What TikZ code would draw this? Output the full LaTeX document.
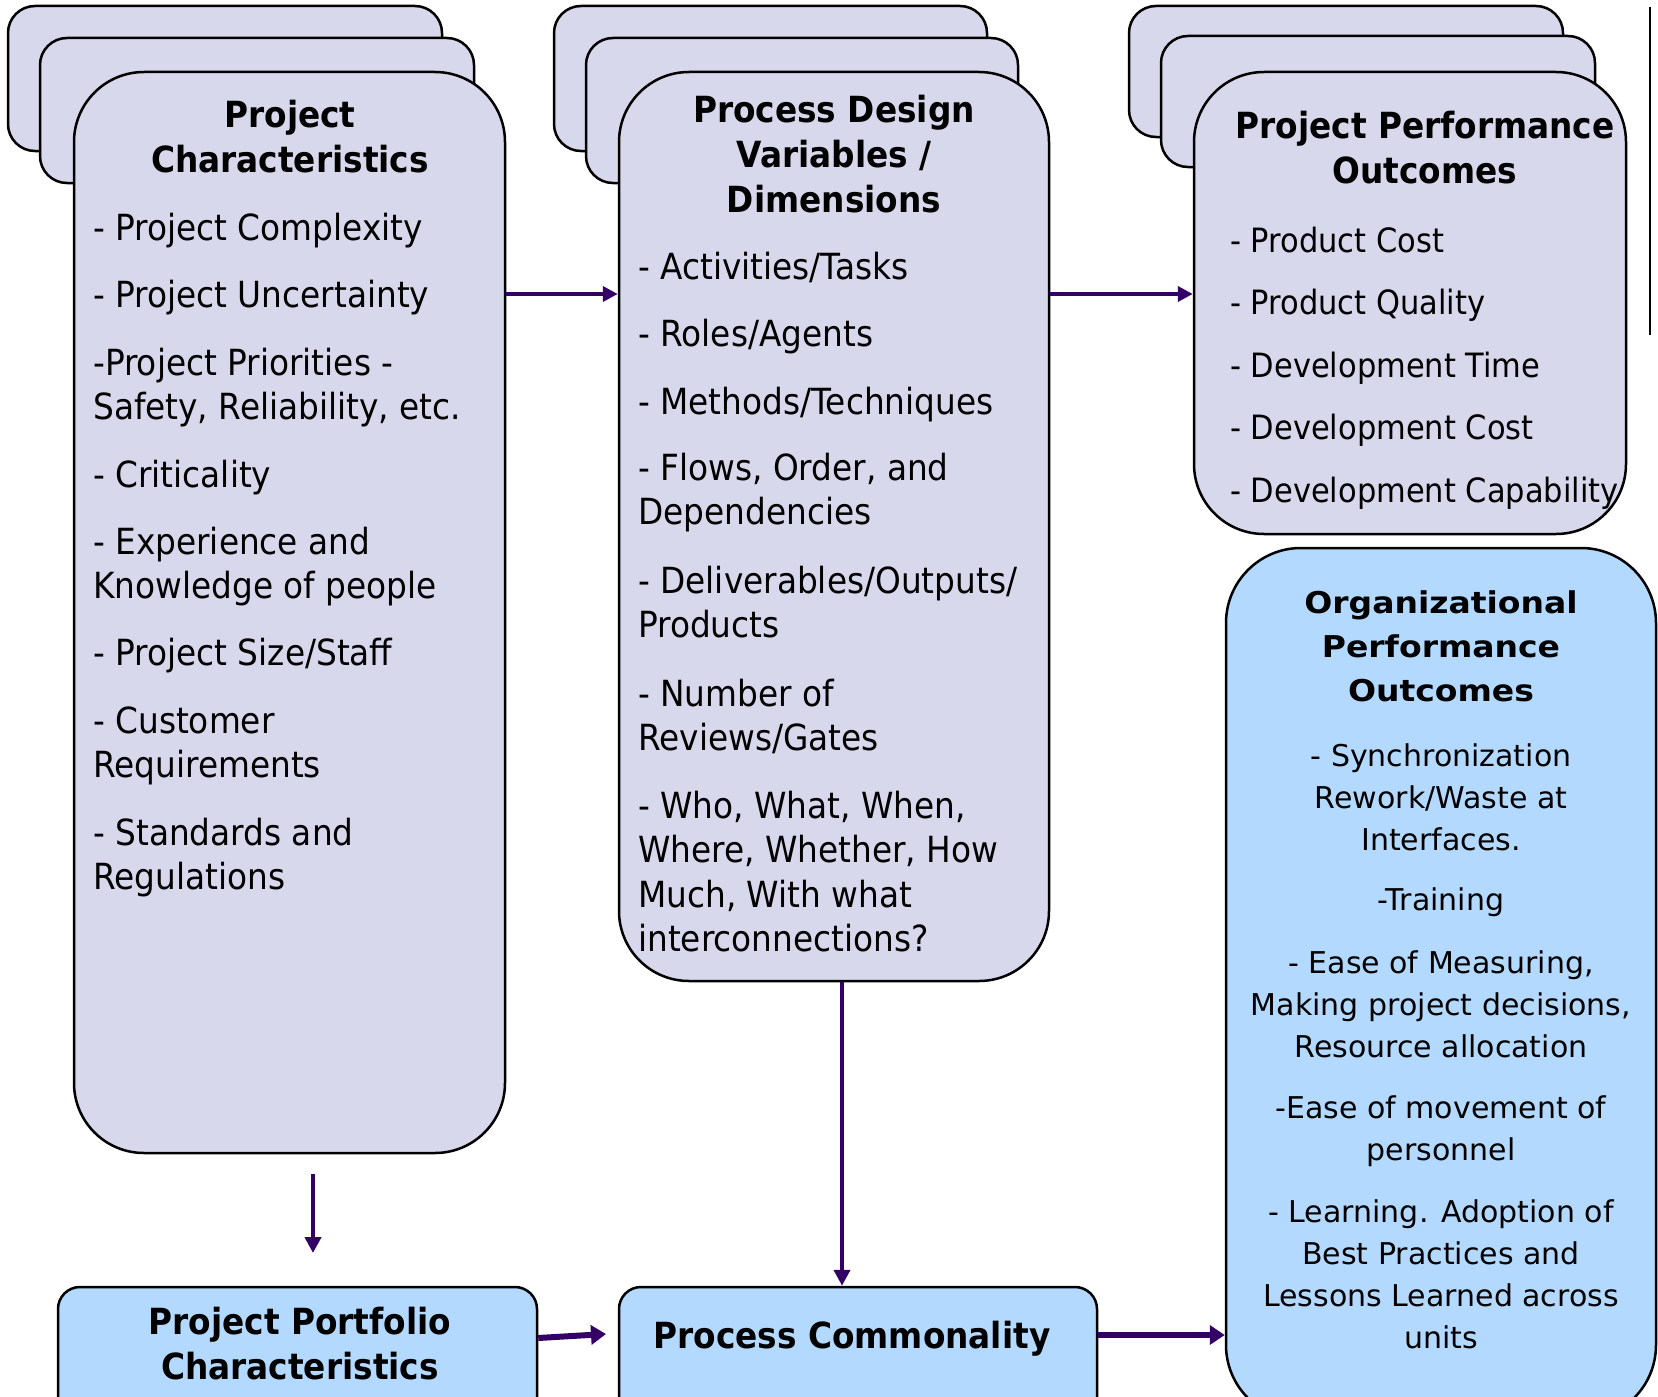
\documentclass[tikz,border=0pt]{standalone}
\usepackage{fontspec}
\setmainfont{DejaVu Sans}[FakeStretch=0.91]
\newfontfamily\orgfont{DejaVu Sans}
\newfontfamily\orgboldfont{DejaVu Sans Bold}[FakeStretch=1.1]
\usetikzlibrary{arrows.meta}
\definecolor{lav}{RGB}{216,216,236}
\definecolor{lblue}{RGB}{179,217,255}
\definecolor{arr}{RGB}{51,0,102}
\begin{document}
\begin{tikzpicture}[x=1pt,y=-1pt,
  backbox/.style={draw=black,line width=2.5pt,fill=lav,rounded corners=27pt,inner sep=0pt,minimum width=434pt,minimum height=145pt},
  frontbox/.style={draw=black,line width=2.5pt,fill=lav,rounded corners=70pt,inner sep=0pt},
  orgbox/.style={draw=black,line width=2.5pt,fill=lblue,rounded corners=75pt,inner sep=0pt},
  botbox/.style={draw=black,line width=2.5pt,fill=lblue,rounded corners=22pt,inner sep=0pt},
  item/.style={inner sep=0pt,anchor=base west,align=left,font=\fontsize{36}{44.5}\selectfont},
  ritem/.style={inner sep=0pt,anchor=base west,align=left,font=\fontsize{33.5}{42}\selectfont},
  ttl/.style={inner sep=0pt,anchor=base,align=center,font=\fontsize{36}{45}\selectfont\bfseries},
  oitem/.style={inner sep=0pt,anchor=base,align=center,font=\orgfont\fontsize{30}{42}\selectfont},
  ottl/.style={inner sep=0pt,anchor=base,align=center,font=\orgboldfont\fontsize{30}{44}\selectfont},
  athin/.style={draw=arr,line width=4pt,-{Triangle[length=15pt,width=15pt]}},
  amid/.style={draw=arr,line width=4.5pt,-{Triangle[length=16pt,width=16pt]}},
  athick/.style={draw=arr,line width=6pt,-{Triangle[length=15pt,width=19pt]}}]
\useasboundingbox (0,0) rectangle (1658,1397);
\clip (0,0) rectangle (1658,1397);
\fill[white] (0,0) rectangle (1658,1397);

% left column
\node[backbox] (lb1) at (225,78.5) {};
\node[backbox] (lb2) at (257,110.5) {};
\node[frontbox,minimum width=431pt,minimum height=1081pt] (lf) at (289.5,612.5) {};
% middle column
\node[backbox,minimum width=433pt] (mb1) at (770.5,78.5) {};
\node[backbox,minimum width=432pt] (mb2) at (802,110.5) {};
\node[frontbox,minimum width=430pt,minimum height=909pt] (mf) at (834,526.5) {};
% right column
\node[backbox,minimum height=131pt] (rb1) at (1346,71.5) {};
\node[backbox,minimum height=131pt] (rb2) at (1378,101.5) {};
\node[frontbox,minimum width=432pt,minimum height=462pt] (rf) at (1410,303) {};
% vertical rule at right edge
\coordinate (vr1) at (1650,7);
\coordinate (vr2) at (1650,335);
\draw[line width=2pt] (vr1) -- (vr2);
% organizational box
\node[orgbox,minimum width=430pt,minimum height=872pt] (org) at (1441,984) {};
% bottom boxes
\node[botbox,minimum width=479pt,minimum height=133pt] (pp) at (297.5,1353.5) {};
\node[botbox,minimum width=478pt,minimum height=133pt] (pc) at (858,1353.5) {};

% texts: left (multi-line nodes are placed by the baseline of their last line)
\node[ttl] (lt) at (290,172) {Project\\Characteristics};
\node[item] (l1) at (93,240) {- Project Complexity};
\node[item] (l2) at (93,307) {- Project Uncertainty};
\node[item] (l3) at (93,419.5) {-Project Priorities -\\Safety, Reliability, etc.};
\node[item] (l4) at (93,487) {- Criticality};
\node[item] (l5) at (93,598.5) {- Experience and\\Knowledge of people};
\node[item] (l6) at (93,665) {- Project Size/Staff};
\node[item] (l7) at (93,777.5) {- Customer\\Requirements};
\node[item] (l8) at (93,889.5) {- Standards and\\Regulations};
% texts: middle
\node[ttl] (mt) at (834,212) {Process Design\\Variables /\\Dimensions};
\node[item] (m1) at (638,279) {- Activities/Tasks};
\node[item] (m2) at (638,346) {- Roles/Agents};
\node[item] (m3) at (638,414) {- Methods/Techniques};
\node[item] (m4) at (638,524.5) {- Flows, Order, and\\Dependencies};
\node[item] (m5) at (638,637.5) {- Deliverables/Outputs/\\Products};
\node[item] (m6) at (638,750.5) {- Number of\\Reviews/Gates};
\node[item] (m7) at (638,951.5) {- Who, What, When,\\Where, Whether, How\\Much, With what\\interconnections?};
% texts: right
\node[ttl] (rt) at (1425,183) {Project Performance\\Outcomes};
\node[ritem] (r1) at (1230,252) {- Product Cost};
\node[ritem] (r2) at (1230,314) {- Product Quality};
\node[ritem] (r3) at (1230,377) {- Development Time};
\node[ritem] (r4) at (1230,439) {- Development Cost};
\node[ritem] (r5) at (1230,502) {- Development Capability};
% texts: organizational
\node[ottl] (ot) at (1441,701) {Organizational\\Performance\\Outcomes};
\node[oitem] (o1) at (1441,850) {- Synchronization\\Rework/Waste at\\Interfaces.};
\node[oitem] (o2) at (1441,910) {-Training};
\node[oitem] (o3) at (1441,1057) {- Ease of Measuring,\\Making project decisions,\\Resource allocation};
\node[oitem] (o4) at (1441,1160) {-Ease of movement of\\personnel};
\node[oitem] (o5) at (1441,1348) {- Learning. Adoption of\\Best Practices and\\Lessons Learned across\\units};
% texts: bottom
\node[ttl] (ppt) at (300,1379) {Project Portfolio\\Characteristics};
\node[ttl] (pct) at (852,1348) {Process Commonality};

% connectors
\coordinate (row) at (0,294);
\draw[athin] (lf.east |- row) -- (mf.west |- row);
\draw[athin] (mf.east |- row) -- (rf.west |- row);
\coordinate (ld1) at (313,1174);
\coordinate (ld2) at (313,1253);
\draw[amid] (ld1) -- (ld2);
\coordinate (mdx) at (842,0);
\draw[amid] (mf.south -| mdx) -- (pc.north -| mdx);
\coordinate (ppa) at (0,1338);
\coordinate (pptip) at (606,1334);
\draw[athick] (pp.east |- ppa) -- (pptip);
\coordinate (cra) at (0,1335);
\draw[athick] (pc.east |- cra) -- (org.west |- cra);
\end{tikzpicture}
\end{document}
